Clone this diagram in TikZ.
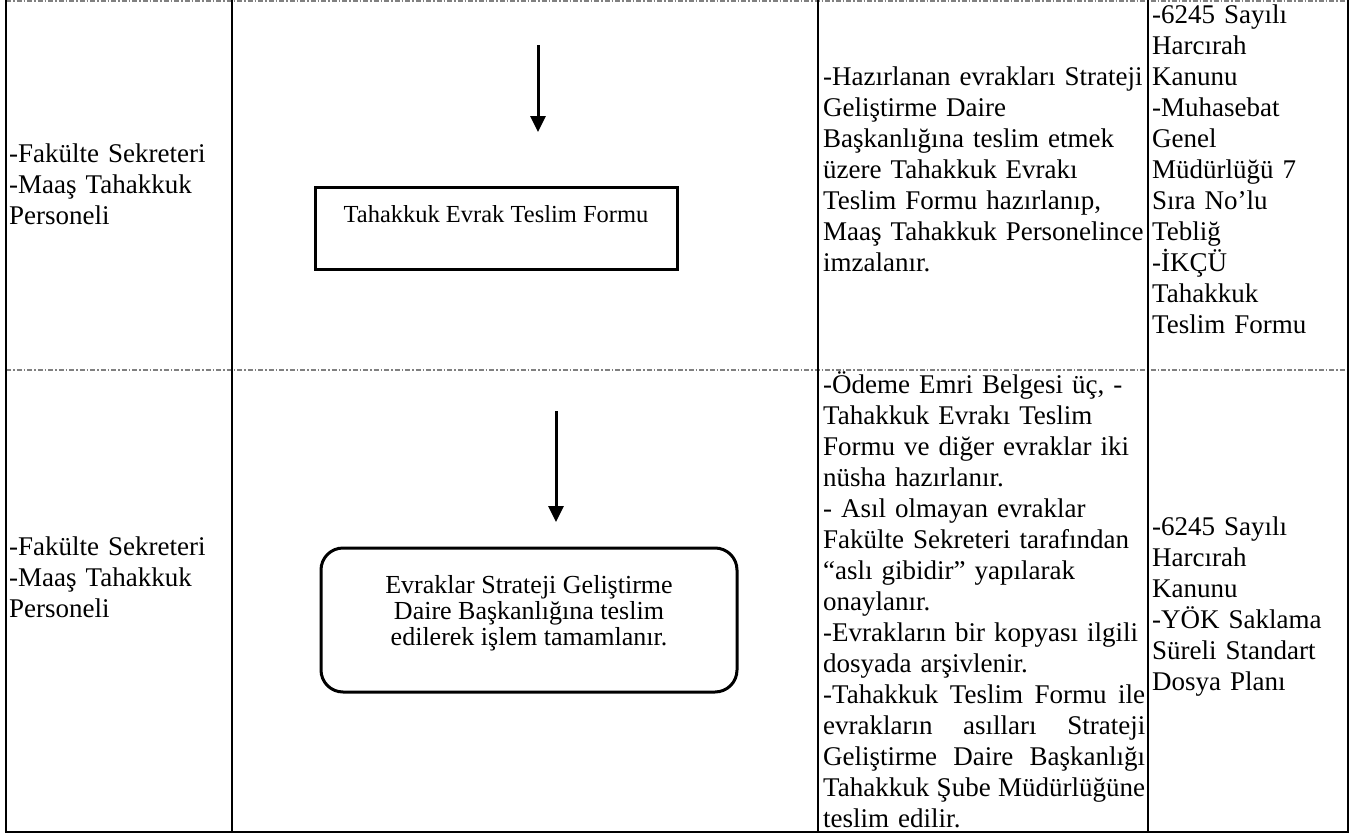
\documentclass[tikz,border=0pt]{standalone}
\usepackage{fontspec}
\setmainfont{Liberation Serif}
\usetikzlibrary{arrows.meta}

\begin{document}
\begin{tikzpicture}[x=1pt,y=-1pt,
	cell/.style={anchor=north west,inner sep=0pt,align=left,font=\fontsize{27}{31}\selectfont},
	grid/.style={line width=2.5pt},
	sep/.style={gray,line width=1.5pt,dash pattern=on 5pt off 2pt on 1.5pt off 2pt},
	flow/.style={-{Triangle[width=15pt,length=16pt]},line width=3pt},
	stepbox/.style={draw,line width=3pt,font=\fontsize{26}{26}\selectfont},
	]
	\useasboundingbox (0,0) rectangle (1358,835);
	% table
	\draw[sep] (6,1) -- (1348,1);
	\draw[sep] (6,370) -- (1348,370);
	\foreach \x in {6,232,818,1148,1348}{
		\draw[grid] (\x,0) -- (\x,833);
		}
	\draw[grid] (4.75,832) -- (1349.25,832);
	% first row
	\node[cell,text width=215pt] (who1) at (9,141) {\strut-Fakülte Sekreteri\\-Maaş Tahakkuk\\Personeli};
	\coordinate (a1) at (538,45);
	\coordinate (b1) at (538,132);
	\draw[flow] (a1) -- (b1);
	\node[stepbox,font=\fontsize{24.5}{28}\selectfont,minimum width=362pt,minimum height=82pt,inner sep=15pt,text height=20pt,text depth=32pt] (form) at (496,228) {Tahakkuk Evrak Teslim Formu};
	\node[cell,text width=322pt] (what1) at (823,64) {\strut-Hazırlanan evrakları Strateji\\Geliştirme Daire\\Başkanlığına teslim etmek\\üzere Tahakkuk Evrakı\\Teslim Formu hazırlanıp,\\Maaş Tahakkuk Personelince\\imzalanır.};
	\node[cell,text width=190pt] (law1) at (1152,2) {\strut-6245 Sayılı\\Harcırah\\Kanunu\\-Muhasebat\\Genel\\Müdürlüğü 7\\Sıra No’lu\\Tebliğ\\-İKÇÜ\\Tahakkuk\\Teslim Formu};
	% second row
	\node[cell,text width=215pt] (who2) at (9,534) {\strut-Fakülte Sekreteri\\-Maaş Tahakkuk\\Personeli};
	\coordinate (a2) at (556,411);
	\coordinate (b2) at (556,522);
	\draw[flow] (a2) -- (b2);
	\node[stepbox,rounded corners=22pt,minimum width=416pt,minimum height=144pt,align=center] (done) at (529,620) {};
	\node[font=\fontsize{26}{26}\selectfont,align=center,inner sep=0pt] (donetext) at (529,613) {Evraklar Strateji Geliştirme\\Daire Başkanlığına teslim\\edilerek işlem tamamlanır.};
	\node[cell,text width=322pt] (what2) at (823,371) {\strut-Ödeme Emri Belgesi üç, -\\Tahakkuk Evrakı Teslim\\Formu ve diğer evraklar iki\\nüsha hazırlanır.\\- Asıl olmayan evraklar\\Fakülte Sekreteri tarafından\\“aslı gibidir” yapılarak\\onaylanır.\\-Evrakların bir kopyası ilgili\\dosyada arşivlenir.\\-Tahakkuk\hfill Teslim\hfill Formu\hfill ile\\evrakların\hfill asılları\hfill Strateji\\Geliştirme\hfill Daire\hfill Başkanlığı\\Tahakkuk\hfill Şube\hfill Müdürlüğüne\\teslim edilir.};
	\node[cell,text width=190pt] (law2) at (1152,514) {\strut-6245 Sayılı\\Harcırah\\Kanunu\\-YÖK Saklama\\Süreli Standart\\Dosya Planı};
\end{tikzpicture}
\end{document}
